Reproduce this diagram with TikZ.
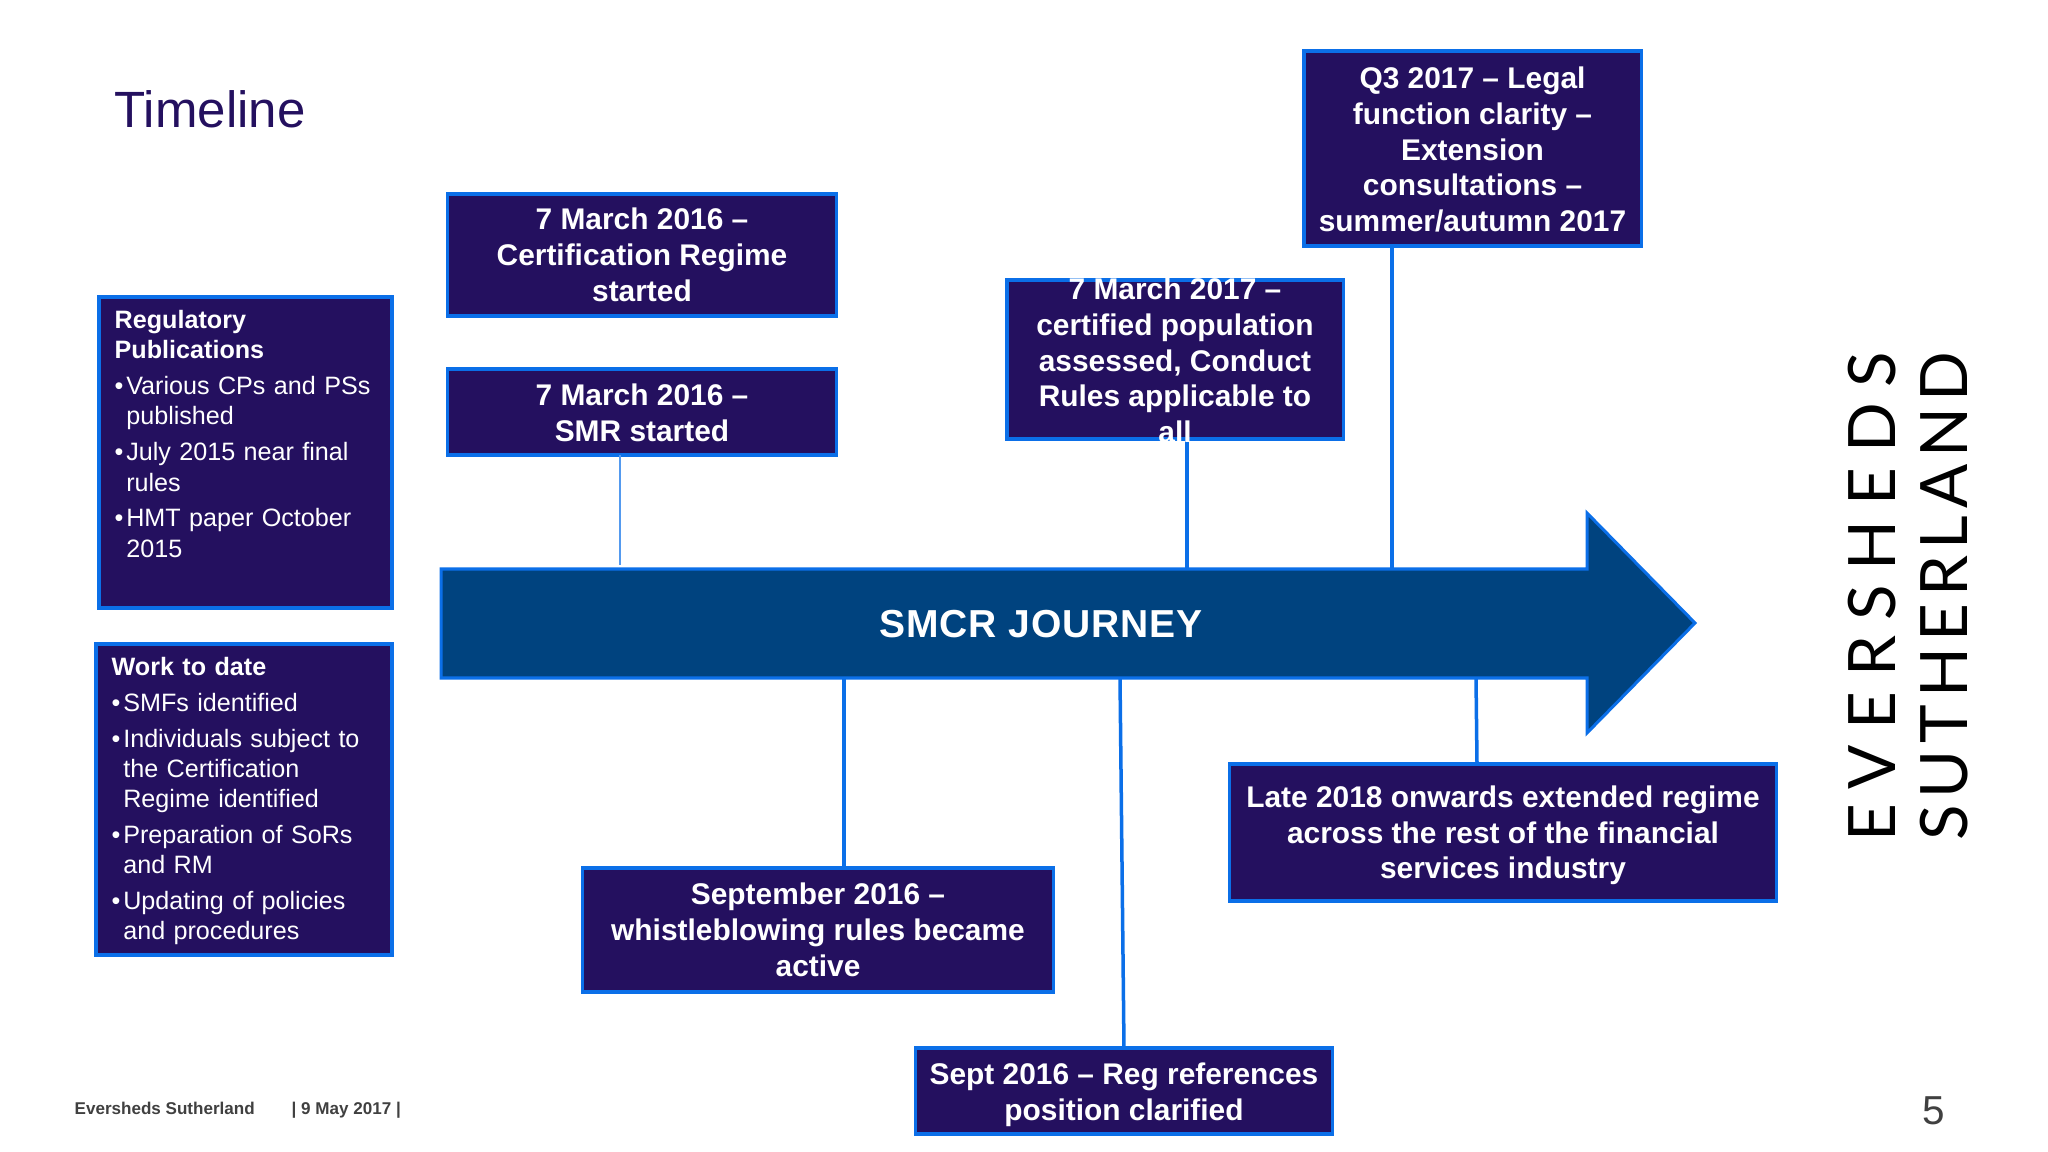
\documentclass[tikz,border=0pt]{standalone}
\usepackage{fontspec}
\setmainfont{Liberation Sans}
\newfontfamily\journeyfont[LetterSpace=2.4]{Liberation Sans}
\newfontfamily\logofontE[LetterSpace=23]{Lato}
\newfontfamily\logofontS[LetterSpace=10.2]{Lato}
\usepackage{xcolor}
\definecolor{boxfill}{HTML}{24105F}
\definecolor{boxline}{HTML}{0B6FE8}
\definecolor{arrowfill}{HTML}{00437F}
\newcommand{\bul}{\par\vspace{1.67pt}\noindent\makebox[3.3pt][l]{\textbullet}}
\newcommand{\cont}{\\\hspace*{3.3pt}}
\tikzset{
  evbox/.style={draw=boxline, fill=boxfill, line width=0.032cm, inner sep=0pt, outer sep=0pt},
  evtext/.style={text=white, align=center, inner sep=0pt, font=\fontsize{8.5}{10.15}\selectfont\bfseries},
  sidetext/.style={text=white, align=left, anchor=north west, inner sep=0pt, text width=2.75cm,
    font=\fontsize{7.15}{8.55}\selectfont},
  evlink/.style={draw=boxline, line width=0.035cm}
}

\begin{document}
\begin{tikzpicture}[x=0.01cm, y=-0.01cm]
% Timeline del percorso SMCR - coordinate in pixel dell'immagine
\useasboundingbox (0,0) rectangle (2048,1152);

\coordinate (Jb) at (441,569);
\coordinate (Jc) at (1587,569);
\coordinate (Jd) at (1587,513);
\coordinate (Je) at (1695,623);
\coordinate (Jf) at (1587,733);
\coordinate (Jg) at (1587,678);
\coordinate (Jh) at (441,678);

\coordinate (Ja1) at (620,565);
\coordinate (Ja2) at (1187,569);
\coordinate (Ja3) at (1392,569);
\coordinate (Jb1) at (844,678);
\coordinate (Jb2) at (1120,678);
\coordinate (Jb3) at (1476,678);
\coordinate (Lt) at (1477,763);

\node[text=boxfill, anchor=base west, inner sep=0pt, font=\fontsize{14.5}{17}\selectfont] (title) at (114,128) {Timeline};

\filldraw[color=boxline, fill=arrowfill, line width=0.03cm] (Jb) -- (Jc) -- (Jd) -- (Je) -- (Jf) -- (Jg) -- (Jh) -- cycle;
\node[text=white, inner sep=0pt, font=\fontsize{11.1}{14}\selectfont\journeyfont\bfseries] (journey) at (1041,624) {SMCR JOURNEY};

% riquadri a sinistra
\node[evbox, minimum width=2.93cm, minimum height=3.11cm] (Pub) at (245.5,452.5) {};
\node[sidetext] (Pubt) at (114,310) {\textbf{Regulatory\\Publications}
  \bul Various CPs and PSs\cont published
  \bul July 2015 near final\cont rules
  \bul HMT paper October\cont 2015\par};

\node[evbox, minimum width=2.96cm, minimum height=3.11cm] (Work) at (244,799.5) {};
\node[sidetext] (Workt) at (111,657) {\textbf{Work to date}
  \bul SMFs identified
  \bul Individuals subject to\cont the Certification\cont Regime identified
  \bul Preparation of SoRs\cont and RM
  \bul Updating of policies\cont and procedures\par};

% riquadri sopra e sotto la freccia
\node[evbox, minimum width=3.88cm, minimum height=1.22cm] (C16) at (642,255) {};
\node[evtext] (C16t) at (C16) {7 March 2016 --\\Certification Regime\\started};

\node[evbox, minimum width=3.88cm, minimum height=0.86cm] (S16) at (642,412) {};
\node[evtext, yshift=-0.01cm] (S16t) at (S16) {7 March 2016 --\\SMR started};

\node[evbox, minimum width=3.37cm, minimum height=1.95cm] (Q17) at (1472.5,148.5) {};
\node[evtext, yshift=-0.01cm] (Q17t) at (Q17) {Q3 2017 -- Legal\\function clarity --\\Extension\\consultations --\\summer/autumn 2017};

\node[evbox, minimum width=3.36cm, minimum height=1.59cm] (C17) at (1175,359.5) {};

\node[evbox, minimum width=4.71cm, minimum height=1.24cm] (W16) at (818,930) {};
\node[evtext] (W16t) at (W16) {September 2016 --\\whistleblowing rules became\\active};

\node[evbox, minimum width=4.17cm, minimum height=0.86cm] (R16) at (1124,1091) {};
\node[evtext, yshift=-0.04cm] (R16t) at (R16) {Sept 2016 -- Reg references\\position clarified};

\node[evbox, minimum width=5.46cm, minimum height=1.37cm] (L18) at (1503,832.5) {};
\node[evtext, yshift=-0.03cm] (L18t) at (L18) {Late 2018 onwards extended regime\\across the rest of the financial\\services industry};

\draw[draw=boxline!70, line width=0.012cm] (S16.south -| Ja1) -- (Ja1);
\draw[evlink] (C17.south -| Ja2) -- (Ja2);
\draw[evlink] (Q17.south -| Ja3) -- (Ja3);
\draw[evlink] (W16.north -| Jb1) -- (Jb1);
\draw[evlink] (R16.north) -- (Jb2);
\draw[evlink] (Lt) -- (Jb3);

% testo che esce dal riquadro
\node[evtext, yshift=-0.01cm] (C17t) at (C17) {7 March 2017 --\\certified population\\assessed, Conduct\\Rules applicable to\\all};

% logo e pie di pagina
\node[rotate=90, inner sep=0pt, anchor=base, font=\fontsize{18.6}{20}\selectfont\logofontE] (logoE) at (1895,597) {EVERSHEDS};
\node[rotate=90, inner sep=0pt, anchor=base, font=\fontsize{18.6}{20}\selectfont\logofontS] (logoS) at (1967,596) {SUTHERLAND};

\node[text=black!75, anchor=base west, inner sep=0pt, font=\fontsize{4.85}{6}\selectfont\bfseries] (foot) at (74,1114) {Eversheds Sutherland};
\node[text=black!75, anchor=base west, inner sep=0pt, font=\fontsize{4.85}{6}\selectfont\bfseries] (date) at (291,1114) {| 9 May 2017 |};
\node[text=black!75, anchor=base, inner sep=0pt, font=\fontsize{11.5}{14}\selectfont] (page) at (1934,1124) {5};
\end{tikzpicture}
\end{document}
